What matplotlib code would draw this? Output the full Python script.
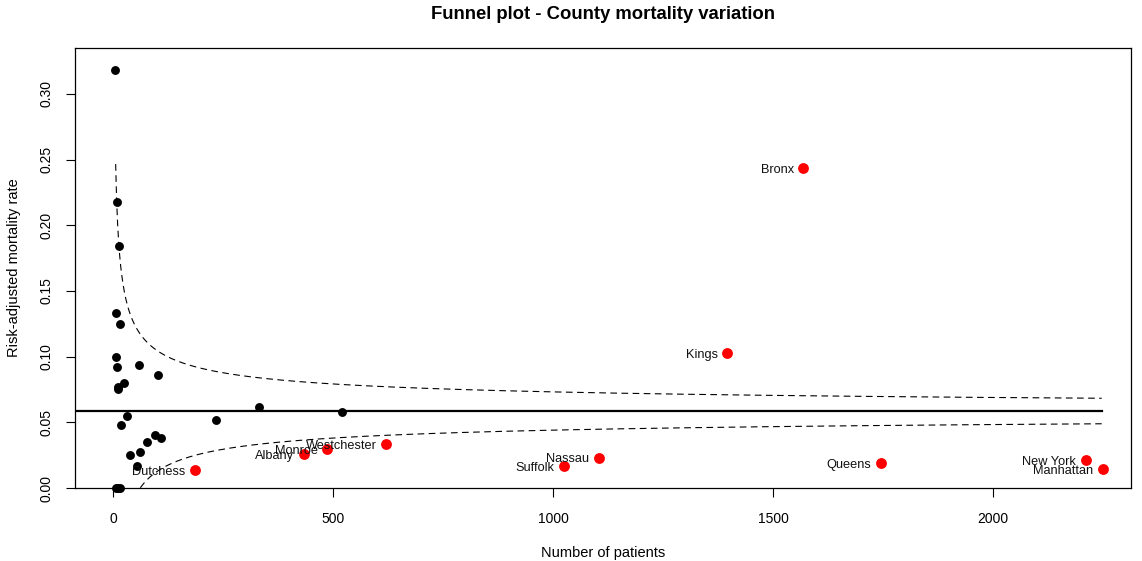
import numpy as np
import matplotlib
matplotlib.use("Agg")
import matplotlib.pyplot as plt

plt.rcParams['font.family'] = ['Liberation Sans', 'DejaVu Sans']

# counties inside the limits (unlabelled)
n_other = [5, 8, 14, 7, 16, 7, 8, 58, 102, 24, 12, 11, 332, 520, 31, 233,
           18, 95, 108, 77, 61, 39, 54, 7, 12, 17]
rate_other = [0.318, 0.218, 0.184, 0.133, 0.125, 0.100, 0.092, 0.094, 0.086,
              0.080, 0.077, 0.075, 0.062, 0.058, 0.055, 0.0515, 0.048, 0.040,
              0.038, 0.035, 0.0274, 0.0254, 0.0167, 0.0, 0.0, 0.0]

# highlighted counties
names = ["Dutchess", "Albany", "Monroe", "Westchester", "Suffolk", "Nassau",
         "Kings", "Bronx", "Queens", "New York", "Manhattan"]
n_hl = [186, 434, 487, 621, 1025, 1104, 1396, 1569, 1745, 2211, 2250]
rate_hl = [0.0137, 0.0256, 0.0294, 0.0332, 0.0167, 0.0231, 0.1025, 0.2433,
           0.0188, 0.0213, 0.0142]

p0 = 0.0586      # overall rate
z = 1.96         # 95% limits
n_min, n_max = 6, 2247

fig = plt.figure(figsize=(11.42, 5.61), dpi=100)
ax = fig.add_axes([75/1142, 73/561, (1131-75)/1142, (488-48)/561])

xlim = (-86.4, 2313.6)
ax.set_xlim(xlim)
ax.set_ylim(0, 0.3349)

# funnel limits
nn = np.linspace(n_min, n_max, 2000)
se = np.sqrt(p0 * (1 - p0) / nn)
ax.plot(nn, p0 + z * se, color='black', lw=0.8, dashes=(6, 4))
ax.plot(nn, p0 - z * se, color='black', lw=0.8, dashes=(6, 4))
ax.plot([xlim[0], n_max], [p0, p0], color='black', lw=1.6)

ax.plot(n_other, rate_other, 'o', color='black', ms=6.4, mew=0, clip_on=False)
ax.plot(n_hl, rate_hl, 'o', color='#ff0000', ms=7.8, mew=0, clip_on=False)
for name, x, y in zip(names, n_hl, rate_hl):
    ax.annotate(name, (x, y), xytext=(-7, -1.2), textcoords='offset points',
                ha='right', va='center', fontsize=9.2, color='#111111')

for s in ax.spines.values():
    s.set_linewidth(0.9)

ax.set_xticks([0, 500, 1000, 1500, 2000])
ax.set_yticks([0.0, 0.05, 0.10, 0.15, 0.20, 0.25, 0.30])
ax.set_yticklabels(["0.00", "0.05", "0.10", "0.15", "0.20", "0.25", "0.30"],
                   rotation=90, va='center')
ax.tick_params(length=6.5, width=0.8, labelsize=10, direction='out')
ax.tick_params(axis='x', pad=11)
ax.tick_params(axis='y', pad=9)

ax.set_xlabel("Number of patients", fontsize=10.5, labelpad=14)
ax.set_ylabel("Risk-adjusted mortality rate", fontsize=10.5, labelpad=13)
ax.set_title("Funnel plot - County mortality variation", fontsize=13.3,
             fontweight='bold', pad=21)

fig.savefig("out.png", dpi=100)
